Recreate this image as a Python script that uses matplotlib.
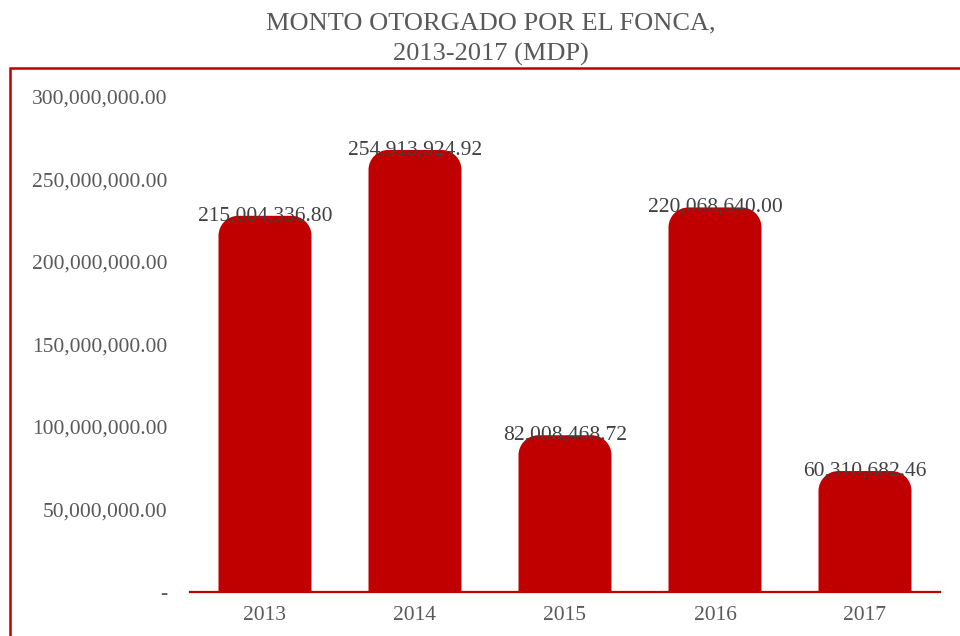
import matplotlib.pyplot as plt
from matplotlib.patches import PathPatch, Rectangle
from matplotlib.path import Path
from matplotlib.ticker import FuncFormatter

years = ['2013', '2014', '2015', '2016', '2017']
amounts = [215004336.80, 254913924.92, 82008468.72, 220068640.00, 60310682.46]
label_texts = ['215,004,336.80', '254,913,924.92', '82,008,468.72', '220,068,640.00', '60,310,682.46']
yticks = [0, 50e6, 100e6, 150e6, 200e6, 250e6, 300e6]

red = '#C00000'
grey = '#595959'
plt.rcParams['font.family'] = ['Liberation Serif', 'DejaVu Serif']

W, H = 960, 636
fig = plt.figure(figsize=(W / 100, H / 100), dpi=100)
ax = fig.add_axes([190 / W, (H - 592) / H, 750 / W, (592 - 97) / H])
ax.set_xlim(-0.5, 4.5)
ax.set_ylim(0, 300e6)

# data units per pixel, so the rounded tops stay circular
ux = 5 / 750
uy = 300e6 / (592 - 97)
r_px = 20
rx, ry = r_px * ux, r_px * uy
k = 0.5523
cap = 13e6  # rounded top sticks out above the value
bw = 0.62


def rounded_bar(xc, top):
    x0, x1 = xc - bw / 2, xc + bw / 2
    verts = [(x0, 0), (x0, top - ry),
             (x0, top - ry + k * ry), (x0 + rx - k * rx, top), (x0 + rx, top),
             (x1 - rx, top),
             (x1 - rx + k * rx, top), (x1, top - ry + k * ry), (x1, top - ry),
             (x1, 0), (x0, 0)]
    codes = [Path.MOVETO, Path.LINETO,
             Path.CURVE4, Path.CURVE4, Path.CURVE4,
             Path.LINETO,
             Path.CURVE4, Path.CURVE4, Path.CURVE4,
             Path.LINETO, Path.CLOSEPOLY]
    return PathPatch(Path(verts, codes), fc=red, ec='none', zorder=2)


for i, v in enumerate(amounts):
    top = v + cap
    ax.add_patch(rounded_bar(i, top))
    ax.text(i, top, label_texts[i], ha='center', va='center',
            fontsize=15.5, color='#404040', zorder=3)

ax.set_xticks(range(len(years)))
ax.set_xticklabels(years)
ax.set_yticks(yticks)
ax.yaxis.set_major_formatter(FuncFormatter(lambda v, p: '-' if v == 0 else '{:,.2f}'.format(v)))
ax.tick_params(length=0, labelsize=15.5, colors=grey)
ax.tick_params(axis='y', pad=16)
ax.tick_params(axis='x', pad=10)
for s in ['top', 'right', 'left']:
    ax.spines[s].set_visible(False)
ax.spines['bottom'].set_color(red)
ax.spines['bottom'].set_linewidth(1.6)
ax.spines['bottom'].set_zorder(4)

fig.add_artist(Rectangle((10 / W, -0.2), 1.2, (H - 68) / H + 0.2,
                         transform=fig.transFigure, fill=False, ec=red, lw=1.8))

fig.text(491 / W, (H - 39) / H, 'MONTO OTORGADO POR EL FONCA,\n2013-2017 (MDP)',
         ha='center', va='center', fontsize=19, color=grey, linespacing=1.45)

fig.savefig('out.png', dpi=100)
